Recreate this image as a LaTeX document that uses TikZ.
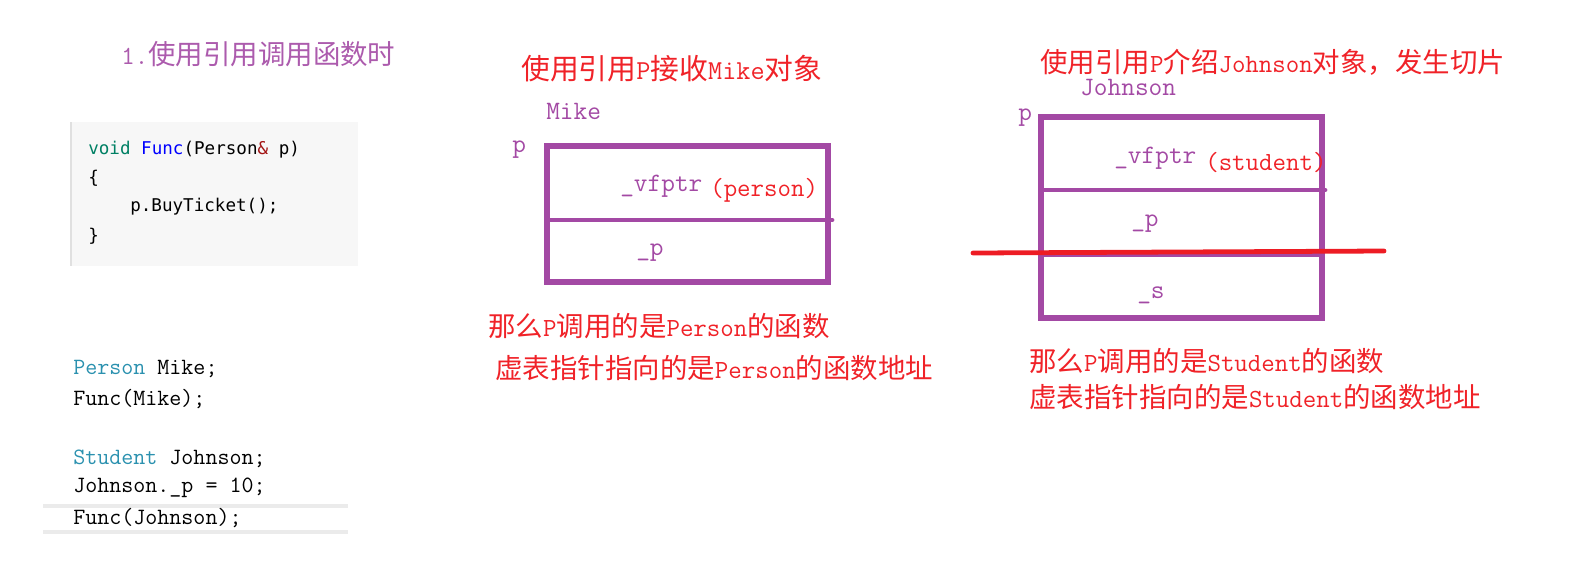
\documentclass[tikz,border=0pt]{standalone}
\usepackage{fontspec}
\newfontfamily\cjk[Scale=1.05]{Noto Sans CJK SC}
\newfontfamily\codefont{DejaVu Sans Mono}
\usetikzlibrary{positioning}

\definecolor{boxpurple}{RGB}{163,73,164}
\definecolor{notered}{RGB}{240,34,40}
\definecolor{slicered}{RGB}{237,28,36}
\definecolor{keyteal}{RGB}{0,128,100}
\definecolor{typeblue}{RGB}{43,145,175}
\definecolor{ampred}{RGB}{163,21,21}
\definecolor{codebg}{RGB}{247,247,247}

\newcommand{\zh}[1]{{\cjk #1}}

\begin{document}
\begin{tikzpicture}[x=0.025cm, y=-0.025cm,
    label/.style={anchor=west, inner sep=0pt},
    note/.style={label, text=notered, font=\ttfamily\fontsize{18.6}{21}\selectfont},
    field/.style={label, text=boxpurple, font=\ttfamily\fontsize{18.9}{21}\selectfont},
    code/.style={label, font=\codefont\fontsize{12.5}{15}\selectfont},
    snippet/.style={label, font=\ttfamily\fontsize{16.6}{19}\selectfont},
    objbox/.style={draw=boxpurple, line width=3.6pt},
    divider/.style={draw=boxpurple, line width=3.4pt, line cap=round}]

    \useasboundingbox (0,0) rectangle (1595,568);

    % Heading
    \node[label, text=boxpurple!90, font=\ttfamily\fontsize{18.6}{22}\selectfont] (heading) at (121,54) {1.\zh{使用引用调用函数时}};

    % Function code block
    \fill[codebg] (71,122) rectangle (358,266);
    \draw[black!12, line width=0.8pt] (71,122) -- (71,266);
    \node[code] (sig) at (88,150) {\textcolor{keyteal}{void} \textcolor{blue}{Func}(Person\textcolor{ampred}{\&} p)};
    \node[code] (lbrace) at (88,178) {\{};
    \node[code] (buy) at (130,207) {p.BuyTicket();};
    \node[code] (rbrace) at (88,236) {\}};

    % Calling code
    \draw[black!8, line width=2.4pt] (43,506) -- (348,506);
    \draw[black!8, line width=2.4pt] (43,532) -- (348,532);
    \node[snippet] (declMike) at (73,369) {\textcolor{typeblue}{Person} Mike;};
    \node[snippet] (callMike) at (73,399) {Func(Mike);};
    \node[snippet] (declJohn) at (73,459) {\textcolor{typeblue}{Student} Johnson;};
    \node[snippet] (setJohn) at (73,488) {Johnson.\_p = 10;};
    \node[snippet] (callJohn) at (73,518) {Func(Johnson);};

    % Mike object seen through p
    \node[note, font=\ttfamily\fontsize{19.5}{22}\selectfont] (mikeTitle) at (521,69) {\zh{使用引用}P\zh{接收}Mike\zh{对象}};
    \node[field] (mikeName) at (546,111) {Mike};
    \node[field] (mikeRef) at (512,150) {p};
    \draw[objbox] (547,146) rectangle (828,282);
    \draw[divider] (547,220) -- (832,220);
    \node[field] (mikeVptr) at (620,186) {\_vfptr};
    \node[note] (mikeKind) at (710,190) {(person)};
    \node[field] (mikeP) at (636,253) {\_p};
    \node[note] (mikeCall) at (488,326) {\zh{那么}P\zh{调用的是}Person\zh{的函数}};
    \node[note] (mikeTable) at (495,368) {\zh{虚表指针指向的是}Person\zh{的函数地址}};

    % Johnson object seen through p, sliced
    \node[note] (johnTitle) at (1040,62) {\zh{使用引用}P\zh{介绍}Johnson\zh{对象，发生切片}};
    \node[field] (johnName) at (1080,88) {Johnson};
    \node[field] (johnRef) at (1018,118) {p};
    \draw[objbox] (1041,117) rectangle (1322,318);
    \draw[divider] (1041,190) -- (1325,190);
    \draw[divider] (1041,255) -- (1322,255);
    \node[field] (johnVptr) at (1114,158) {\_vfptr};
    \node[note] (johnKind) at (1205,163) {(student)};
    \node[field] (johnP) at (1131,224) {\_p};
    \node[field] (johnS) at (1137,295) {\_s};
    \draw[slicered, line width=3.4pt, line cap=round] (973,253) -- (1384,251);
    \node[note] (johnCall) at (1029,361) {\zh{那么}P\zh{调用的是}Student\zh{的函数}};
    \node[note] (johnTable) at (1029,397) {\zh{虚表指针指向的是}Student\zh{的函数地址}};
\end{tikzpicture}
\end{document}
